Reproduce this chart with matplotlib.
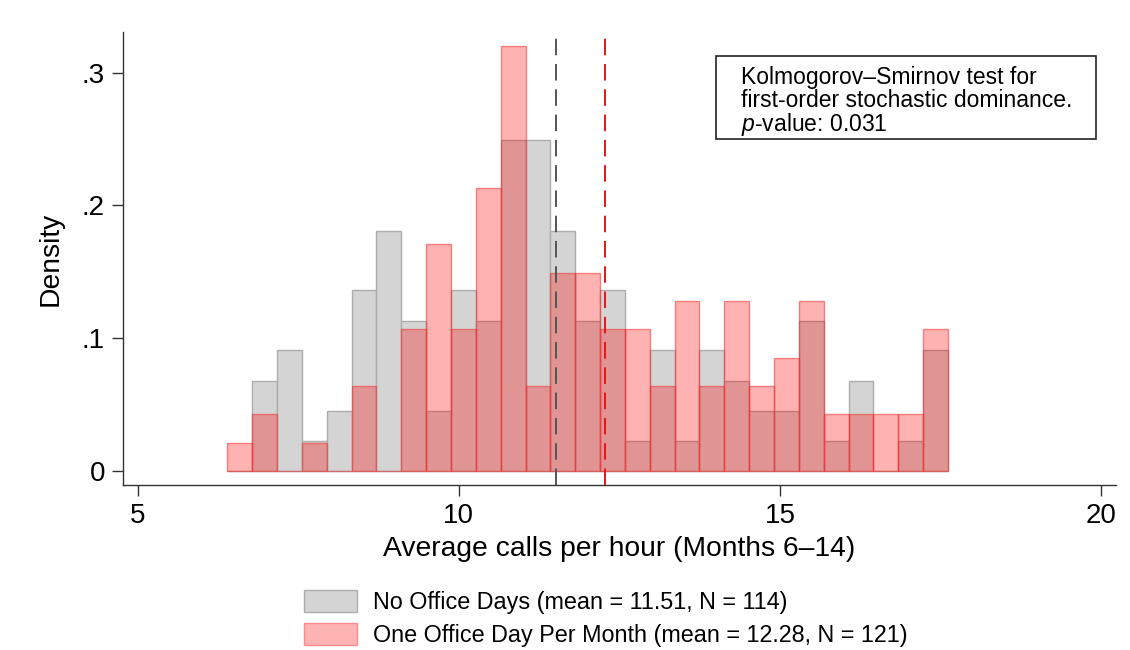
import matplotlib
matplotlib.use("Agg")
import matplotlib.pyplot as plt
from matplotlib.patches import Patch, Rectangle
import numpy as np

plt.rcParams['font.family'] = ['Liberation Sans', 'DejaVu Sans']
plt.rcParams['mathtext.fontset'] = 'custom'
plt.rcParams['mathtext.rm'] = 'Liberation Sans'
plt.rcParams['mathtext.it'] = 'Liberation Sans:italic'

# ---- data ----
bin_start = 6.395
bin_width = 0.387
n_bins = 29

no_office_density = [0.000, 0.068, 0.091, 0.023, 0.045, 0.136, 0.181, 0.113, 0.045, 0.136,
                     0.113, 0.249, 0.249, 0.181, 0.113, 0.136, 0.023, 0.091, 0.023, 0.091,
                     0.068, 0.045, 0.045, 0.113, 0.023, 0.068, 0.000, 0.023, 0.091]
one_office_density = [0.021, 0.043, 0.000, 0.021, 0.000, 0.064, 0.000, 0.107, 0.171, 0.107,
                      0.213, 0.320, 0.064, 0.149, 0.149, 0.107, 0.107, 0.064, 0.128, 0.064,
                      0.128, 0.064, 0.085, 0.128, 0.043, 0.043, 0.043, 0.043, 0.107]
mean_no_office = 11.51
mean_one_office = 12.28
label_no_office = "No Office Days (mean = 11.51, N = 114)"
label_one_office = "One Office Day Per Month (mean = 12.28, N = 121)"
x_ticks = [5, 10, 15, 20]
y_ticks = [0, 0.1, 0.2, 0.3]
y_tick_labels = ["0", ".1", ".2", ".3"]
ks_text = ["Kolmogorov\u2013Smirnov test for",
           "first-order stochastic dominance.",
           r"$\it{p}$-value: 0.031"]

W, H = 1130, 650
fig = plt.figure(figsize=(W / 100, H / 100), dpi=100)
ax = fig.add_axes([123 / W, 1 - 485 / H, (1116 - 123) / W, (485 - 32) / H])

lefts = bin_start + bin_width * np.arange(n_bins)

gray_fill = (0.83, 0.83, 0.83, 1.0)
gray_edge = (0.68, 0.68, 0.68, 1.0)
red_fill = (1.0, 0.0, 0.0, 0.30)
red_edge = (0.95, 0.2, 0.2, 0.55)

ax.bar(lefts, no_office_density, width=bin_width, align='edge',
       color=gray_fill, edgecolor=gray_edge, linewidth=1.0, zorder=2)
ax.bar(lefts, one_office_density, width=bin_width, align='edge',
       color=red_fill, edgecolor=red_edge, linewidth=1.0, zorder=3)

ax.axvline(mean_no_office, color='#555555', linestyle=(0, (8.5, 4.5)), linewidth=1.4, zorder=4)
ax.axvline(mean_one_office, color='#e8141a', linestyle=(0, (8.5, 4.5)), linewidth=1.4, zorder=4)

ax.set_xlim(4.771, 20.234)
ax.set_ylim(-0.0105, 0.3306)
ax.set_xticks(x_ticks)
ax.set_yticks(y_ticks)
ax.set_yticklabels(y_tick_labels)
ax.tick_params(axis='both', direction='out', length=8, width=1.0, color='#333333',
               labelsize=20, pad=5)
for s in ['top', 'right']:
    ax.spines[s].set_visible(False)
for s in ['left', 'bottom']:
    ax.spines[s].set_color('#333333')
    ax.spines[s].set_linewidth(1.0)

ax.set_xlabel("Average calls per hour (Months 6\u201314)", fontsize=20.3, labelpad=5)
ax.set_ylabel("Density", fontsize=20.3, labelpad=13)

# KS annotation box
fig.patches.append(Rectangle((716 / W, 1 - 139 / H), (1096 - 716) / W, (139 - 56) / H,
                             transform=fig.transFigure, fill=False, edgecolor='#222222',
                             linewidth=1.2))
for i, line in enumerate(ks_text):
    fig.text(741 / W, 1 - (84 + 23.3 * i) / H, line, fontsize=16.5,
             ha='left', va='baseline')

# legend
handles = [Patch(facecolor=gray_fill, edgecolor=gray_edge, linewidth=1.0),
           Patch(facecolor=(1.0, 0.70, 0.70), edgecolor=(1.0, 0.55, 0.55), linewidth=1.0)]
fig.legend(handles, [label_no_office, label_one_office], loc='upper left',
           bbox_to_anchor=(295 / W, 1 - 581 / H), frameon=False, fontsize=16.8,
           handlelength=2.25, handleheight=1.05, handletextpad=0.7, labelspacing=0.38,
           borderaxespad=0)

fig.savefig("out.png", dpi=100, facecolor='white')
